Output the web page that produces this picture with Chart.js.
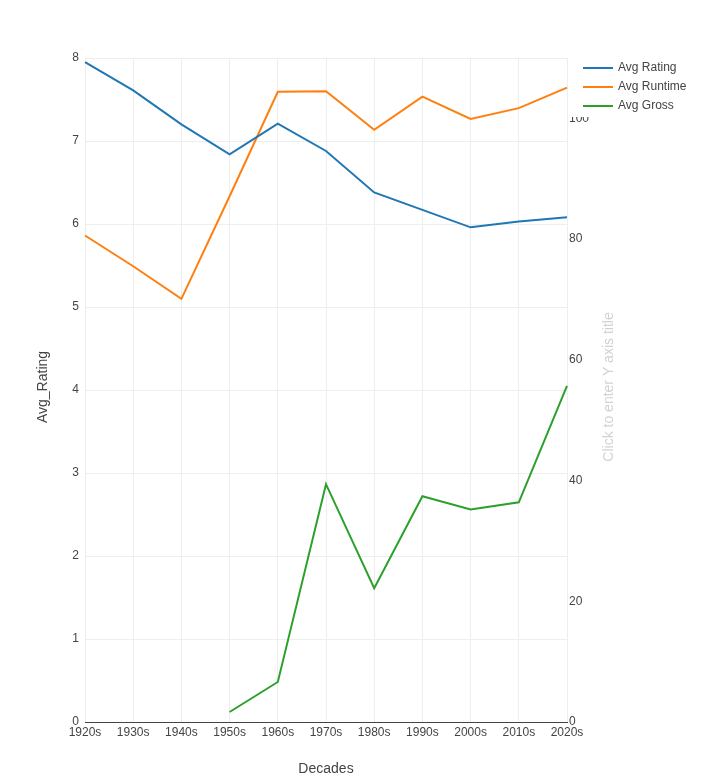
<!DOCTYPE html>
<html>
<head>
<meta charset="utf-8">
<script src="https://cdn.jsdelivr.net/npm/chart.js@4"></script>
<style>
  html, body { margin: 0; padding: 0; background: #fff; }
  #wrap { width: 702px; height: 783px; }
</style>
</head>
<body>
<div id="wrap"><canvas id="chart" width="702" height="783"></canvas></div>
<script>
const decades = ['1920s', '1930s', '1940s', '1950s', '1960s', '1970s', '1980s', '1990s', '2000s', '2010s', '2020s'];
const avgRating = [7.95, 7.61, 7.20, 6.84, 7.21, 6.88, 6.38, 6.17, 5.96, 6.03, 6.08];
const avgRuntime = [80.6, 75.5, 70.1, 87.1, 104.4, 104.5, 98.1, 103.6, 99.9, 101.7, 105.1];
const avgGross = [null, null, null, 1.66, 6.63, 39.4, 22.15, 37.4, 35.2, 36.4, 55.7];

const leftTicks = [0, 1, 2, 3, 4, 5, 6, 7, 8];
const rightTicks = [0, 20, 40, 60, 80, 100];

const fontFamily = '"Liberation Sans", Arial, sans-serif';
const textColor = '#444';

// legend + axis titles drawn by hand so they sit where the original has them
const extras = {
    id: 'extras',
    afterDraw: chart => {
        const ctx = chart.ctx;
        ctx.save();

        // legend box covers the top of the right ticks, like the original
        ctx.fillStyle = '#fff';
        ctx.fillRect(568, 56, 134, 61);

        ctx.font = '12px ' + fontFamily;
        ctx.textBaseline = 'middle';
        ctx.textAlign = 'left';
        chart.data.datasets.forEach((ds, i) => {
            const y = 68 + i * 19;
            ctx.strokeStyle = ds.borderColor;
            ctx.lineWidth = 2;
            ctx.beginPath();
            ctx.moveTo(583, y);
            ctx.lineTo(613, y);
            ctx.stroke();
            ctx.fillStyle = textColor;
            ctx.fillText(ds.label, 618, y);
        });

        ctx.font = '14px ' + fontFamily;
        ctx.textAlign = 'center';
        ctx.fillStyle = textColor;
        ctx.fillText('Decades', 326, 769);

        ctx.save();
        ctx.translate(43, 387);
        ctx.rotate(-Math.PI / 2);
        ctx.fillText('Avg_Rating', 0, 0);
        ctx.restore();

        ctx.save();
        ctx.translate(609, 387);
        ctx.rotate(-Math.PI / 2);
        ctx.fillStyle = '#d2d2d2';
        ctx.fillText('Click to enter Y axis title', 0, 0);
        ctx.restore();

        ctx.restore();
    }
};

const ctx = document.getElementById('chart').getContext('2d');
const myChart = new Chart(ctx, {
    type: 'line',
    data: {
        labels: decades,
        datasets: [{
            label: 'Avg Rating',
            data: avgRating,
            yAxisID: 'y',
            borderColor: '#1f77b4',
            backgroundColor: '#1f77b4',
            borderWidth: 2,
            pointRadius: 0,
            tension: 0
        }, {
            label: 'Avg Runtime',
            data: avgRuntime,
            yAxisID: 'y2',
            borderColor: '#ff7f0e',
            backgroundColor: '#ff7f0e',
            borderWidth: 2,
            pointRadius: 0,
            tension: 0
        }, {
            label: 'Avg Gross',
            data: avgGross,
            yAxisID: 'y2',
            borderColor: '#2ca02c',
            backgroundColor: '#2ca02c',
            borderWidth: 2,
            pointRadius: 0,
            tension: 0
        }]
    },
    options: {
        responsive: false,
        animation: false,
        layout: { padding: { top: 58, left: 0, right: 0, bottom: 0 } },
        plugins: {
            legend: { display: false },
            tooltip: { enabled: false }
        },
        scales: {
            x: {
                offset: false,
                afterFit: scale => { scale.height = 61; },
                grid: { color: '#eee', drawTicks: false },
                border: { display: true, color: '#444', width: 1 },
                ticks: {
                    color: textColor,
                    font: { family: fontFamily, size: 12 },
                    padding: 3,
                    maxRotation: 0,
                    autoSkip: false
                }
            },
            y: {
                position: 'left',
                min: 0,
                max: 8,
                afterFit: scale => { scale.width = 85; },
                afterBuildTicks: scale => { scale.ticks = leftTicks.map(v => ({ value: v })); },
                grid: { color: '#eee', drawTicks: false },
                border: { display: false },
                ticks: {
                    color: textColor,
                    font: { family: fontFamily, size: 12 },
                    padding: 6
                }
            },
            y2: {
                position: 'right',
                min: 0,
                max: 110,
                afterFit: scale => { scale.width = 135; },
                afterBuildTicks: scale => { scale.ticks = rightTicks.map(v => ({ value: v })); },
                grid: { display: false, drawTicks: false },
                border: { display: false },
                ticks: {
                    color: textColor,
                    font: { family: fontFamily, size: 12 },
                    padding: 2
                }
            }
        }
    },
    plugins: [extras]
});
</script>
</body>
</html>
